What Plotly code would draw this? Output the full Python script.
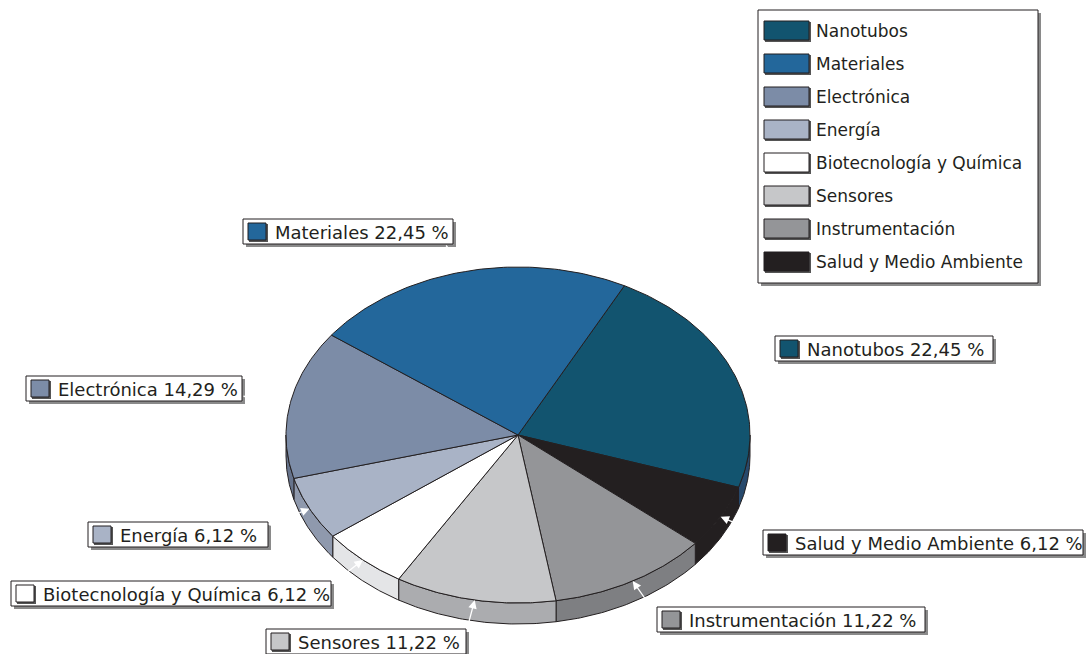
import numpy as np
import plotly.graph_objects as go

# ---- data -------------------------------------------------------------
categories = ["Nanotubos", "Materiales", "Electrónica", "Energía",
              "Biotecnología y Química", "Sensores", "Instrumentación",
              "Salud y Medio Ambiente"]
percent = [22.45, 22.45, 14.29, 6.12, 6.12, 11.22, 11.22, 6.12]

# order in which slices run clockwise around the pie
pie_order = ["Nanotubos", "Salud y Medio Ambiente", "Instrumentación", "Sensores",
             "Biotecnología y Química", "Energía", "Electrónica", "Materiales"]

# ---- style ------------------------------------------------------------
top_colors = {
    "Nanotubos": "#12546F",
    "Materiales": "#23679B",
    "Electrónica": "#7C8CA7",
    "Energía": "#A9B3C6",
    "Biotecnología y Química": "#FFFFFF",
    "Sensores": "#C6C7C9",
    "Instrumentación": "#949598",
    "Salud y Medio Ambiente": "#231F20",
}
side_colors = {
    "Nanotubos": "#27496C",
    "Materiales": "#1C5480",
    "Electrónica": "#66738C",
    "Energía": "#8F99AD",
    "Biotecnología y Química": "#E4E5E7",
    "Sensores": "#ABACAF",
    "Instrumentación": "#7E7F82",
    "Salud y Medio Ambiente": "#231F20",
}
INK = "#231F20"
FONT = "DejaVu Sans"

W, H = 1088, 654
CX, CY = 518, 435        # pie centre (px)
RX, RY = 232, 168        # ellipse radii of the top face
DEPTH = 21               # thickness of the tilted pie
START = 62.7             # angle of the first slice edge (deg, ccw from +x)

# label boxes: left, top, right (px); box height fixed
label_boxes = {
    "Nanotubos": (775, 336, 993),
    "Materiales": (243, 219, 453),
    "Electrónica": (26, 376, 242),
    "Energía": (88, 522, 268),
    "Biotecnología y Química": (11, 581, 331),
    "Sensores": (266, 629, 466),
    "Instrumentación": (657, 607, 925),
    "Salud y Medio Ambiente": (763, 530, 1083),
}
LABEL_H = 25
# where each leader arrow leaves its label box
arrow_tails = {
    "Nanotubos": (775, 360),
    "Materiales": (445, 244),
    "Electrónica": (242, 396),
    "Energía": (268, 526),
    "Biotecnología y Química": (331, 585),
    "Sensores": (467, 629),
    "Instrumentación": (651, 607),
    "Salud y Medio Ambiente": (763, 535),
}

value = dict(zip(categories, percent))


def ex(t):
    return CX + RX * np.cos(np.radians(t))


def ey(t, dz=0.0):
    return CY - RY * np.sin(np.radians(t)) + dz


fig = go.Figure()

# slice angle ranges (clockwise, so angles decrease)
spans = {}
a = START
for name in pie_order:
    sweep = value[name] / sum(percent) * 360.0
    spans[name] = (a, a - sweep)
    a -= sweep

# side walls (only the front half, angles in [-180, 0], is visible)
for name in pie_order:
    a0, a1 = spans[name]
    hi, lo = min(a0, 0.0), max(a1, -180.0)
    if hi <= lo:
        continue
    t = np.linspace(hi, lo, 60)
    xs = np.concatenate([ex(t), ex(t[::-1])])
    ys = np.concatenate([ey(t), ey(t[::-1], DEPTH)])
    fig.add_trace(go.Scatter(
        x=np.append(xs, xs[0]), y=np.append(ys, ys[0]), mode="lines",
        fill="toself", fillcolor=side_colors[name],
        line=dict(color=INK, width=1), hoverinfo="skip", showlegend=False))

# top faces
for name in pie_order:
    a0, a1 = spans[name]
    t = np.linspace(a0, a1, 90)
    xs = np.concatenate([[CX], ex(t), [CX]])
    ys = np.concatenate([[CY], ey(t), [CY]])
    fig.add_trace(go.Scatter(
        x=xs, y=ys, mode="lines", fill="toself", fillcolor=top_colors[name],
        line=dict(color=INK, width=1), hoverinfo="skip", showlegend=False))

shapes = []
annotations = []

# slice labels with value text, swatch and leader arrow
for name in categories:
    left, top, right = label_boxes[name]
    bottom = top + LABEL_H
    shapes.append(dict(type="rect", x0=left + 3, y0=top + 3, x1=right + 3, y1=bottom + 3,
                       fillcolor="#8A8A8A", line=dict(width=0)))
    shapes.append(dict(type="rect", x0=left, y0=top, x1=right, y1=bottom,
                       fillcolor="white", line=dict(color=INK, width=1)))
    shapes.append(dict(type="rect", x0=left + 6, y0=top + 5, x1=left + 25, y1=top + 23,
                       fillcolor="#555555", line=dict(width=0)))
    shapes.append(dict(type="rect", x0=left + 5, y0=top + 4, x1=left + 23, y1=top + 21,
                       fillcolor=top_colors[name], line=dict(color=INK, width=1)))
    txt = f"{name} {value[name]:.2f}".replace(".", ",") + " %"
    annotations.append(dict(x=left + 30, y=top + LABEL_H / 2 + 0.5, xref="x", yref="y",
                            text=txt, showarrow=False, xanchor="left", yanchor="middle",
                            font=dict(family=FONT, size=18, color=INK)))
    a0, a1 = spans[name]
    mid = (a0 + a1) / 2
    tx, ty = arrow_tails[name]
    annotations.append(dict(x=float(ex(mid)), y=float(ey(mid)), xref="x", yref="y",
                            ax=tx, ay=ty, axref="x", ayref="y", text="",
                            showarrow=True, arrowhead=2, arrowsize=1.3, arrowwidth=1.3,
                            arrowcolor="white", standoff=0, startstandoff=0))

# legend panel
LEG_L, LEG_T, LEG_R, LEG_B = 758, 10, 1038, 283
shapes.append(dict(type="rect", x0=LEG_L + 3, y0=LEG_T + 3, x1=LEG_R + 3, y1=LEG_B + 3,
                   fillcolor="#8A8A8A", line=dict(width=0)))
shapes.append(dict(type="rect", x0=LEG_L, y0=LEG_T, x1=LEG_R, y1=LEG_B,
                   fillcolor="white", line=dict(color=INK, width=1)))
for i, name in enumerate(categories):
    yc = 31 + i * 33
    shapes.append(dict(type="rect", x0=765, y0=yc - 9, x1=811, y1=yc + 11,
                       fillcolor="#555555", line=dict(width=0)))
    shapes.append(dict(type="rect", x0=764, y0=yc - 10, x1=809, y1=yc + 9,
                       fillcolor=top_colors[name], line=dict(color=INK, width=1)))
    annotations.append(dict(x=814, y=yc, xref="x", yref="y", text=name,
                            showarrow=False, xanchor="left", yanchor="middle",
                            font=dict(family=FONT, size=17, color=INK)))

fig.update_layout(
    width=W, height=H, margin=dict(l=0, r=0, t=0, b=0),
    paper_bgcolor="white", plot_bgcolor="white",
    xaxis=dict(range=[0, W], visible=False, fixedrange=True),
    yaxis=dict(range=[H, 0], visible=False, fixedrange=True),
    shapes=shapes, annotations=annotations, showlegend=False,
)

fig.write_html("out.html")
